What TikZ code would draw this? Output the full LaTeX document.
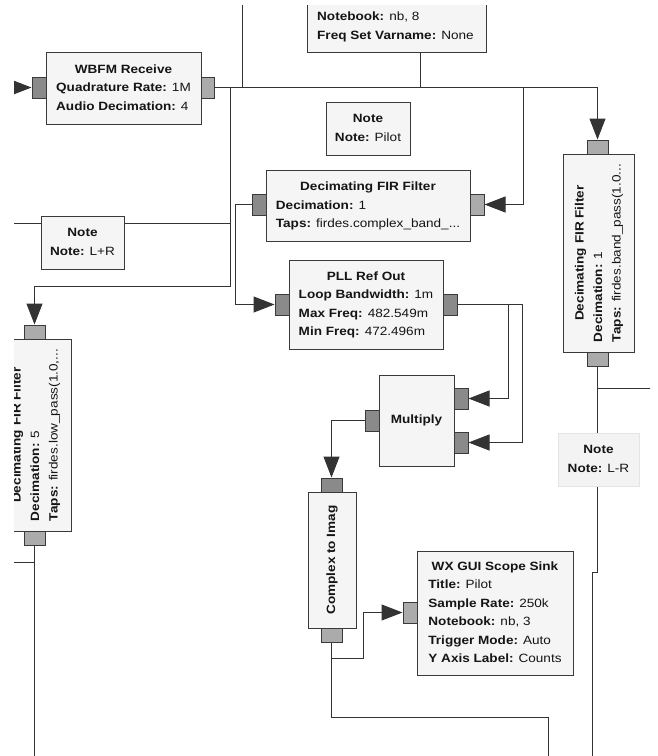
\documentclass[tikz,border=0pt]{standalone}
\usepackage{fontspec}
\setmainfont{Liberation Sans}[FakeStretch=1.13]
\usetikzlibrary{arrows.meta}
\definecolor{bord}{HTML}{3A3A3A}
\definecolor{blkfill}{HTML}{F5F5F5}
\definecolor{portdark}{HTML}{8A8A8A}
\definecolor{portlight}{HTML}{ABABAB}
\definecolor{lin}{HTML}{333333}
\definecolor{txt}{HTML}{151515}
\definecolor{fadeb}{HTML}{E4E4E4}
\definecolor{fadef}{HTML}{F3F3F3}
\newcommand{\blkt}[2]{\begin{tabular}{@{}l@{}}\multicolumn{1}{@{}c@{}}{\textbf{#1}}\\#2\end{tabular}}
\newcommand{\kv}[2]{\textbf{#1:} #2}
\begin{document}
\begin{tikzpicture}[x=1pt,y=-1pt,
  every node/.style={font=\fontsize{12}{18.5}\selectfont, text=txt},
  blk/.style={draw=bord, fill=blkfill, line width=1pt, inner sep=0pt},
  fadedblk/.style={draw=fadeb, fill=fadef, line width=1pt, inner sep=0pt},
  hport/.style={draw=bord, line width=1pt, inner sep=0pt, minimum width=14pt, minimum height=21pt},
  vport/.style={draw=bord, line width=1pt, inner sep=0pt, minimum width=21pt, minimum height=14pt},
  conn/.style={draw=lin, line width=1pt},
  arr/.style={-{Triangle[length=21pt,width=16pt]}}
]
\fill[white] (0,0) rectangle (657,756);
\useasboundingbox (0,0) rectangle (657,756);
\clip (14,5) rectangle (650,756);

% free-end coordinates
\coordinate (inL) at (0,87.5);
\coordinate (j1) at (230,286);
\coordinate (j3) at (523,204.5);
\coordinate (topL) at (242,0);
\coordinate (topLj) at (242,87.5);
\coordinate (fftj1) at (420,53);
\coordinate (fftj2) at (420,87.5);
\coordinate (lrL) at (0,223);
\coordinate (lrR) at (230,223);
\coordinate (j12) at (548,717);
\coordinate (j12b) at (548,770);
\coordinate (lfb) at (34.5,770);
\coordinate (lfl) at (0,562);
\coordinate (lfj) at (34.5,562);
\coordinate (rj1) at (597.5,572);
\coordinate (rj2) at (592,572);
\coordinate (rj3) at (592,770);
\coordinate (rj4) at (597.5,388);
\coordinate (rR) at (670,388);

% ports
\node[hport, fill=portdark]  (wbfmi) at (39,87.5) {};
\node[hport, fill=portlight] (wbfmo) at (207.5,87.5) {};
\node[hport, fill=portdark]  (mfio)  at (259.5,204.5) {};
\node[hport, fill=portlight] (mfii)  at (477,204.5) {};
\node[hport, fill=portdark]  (plli)  at (282,304.5) {};
\node[hport, fill=portdark]  (pllo)  at (450,304.5) {};
\node[hport, fill=portdark]  (mulo)  at (372,420.5) {};
\node[hport, fill=portdark]  (muli1) at (461,398.5) {};
\node[hport, fill=portdark]  (muli2) at (461,442.5) {};
\node[vport, fill=portdark]  (c2ii)  at (331.5,485) {};
\node[vport, fill=portlight] (c2io)  at (331.5,635) {};
\node[hport, fill=portlight] (scpi)  at (410,612.5) {};
\node[vport, fill=portlight] (rfii)  at (597.5,147) {};
\node[vport, fill=portlight] (rfio)  at (597.5,359) {};
\node[vport, fill=portlight] (lfii)  at (34.5,332) {};
\node[vport, fill=portlight] (lfio)  at (34.5,538.5) {};

% connections
\draw[conn, arr] (inL) -- (wbfmi.west);
\draw[conn] (topL) -- (topLj);
\draw[conn] (fftj1) -- (fftj2);
\draw[conn] (lrL) -- (lrR);
\draw[conn, arr] (wbfmo.east) -| (j1) -| (lfii.north);
\draw[conn, arr] (wbfmo.east) -| (rfii.north);
\draw[conn, arr] (wbfmo.east) -| (j3) -- (mfii.east);
\draw[conn, arr] (mfio.west) -- ++(-16.5,0) |- (plli.west);
\draw[conn, arr] (pllo.east) -- ++(51,0) |- (muli1.east);
\draw[conn, arr] (pllo.east) -- ++(65,0) |- (muli2.east);
\draw[conn, arr] (mulo.west) -| (c2ii.north);
\draw[conn, arr] (c2io.south) -- ++(0,16) -- ++(32,0) |- (scpi.west);
\draw[conn] (c2io.south) |- (j12) -- (j12b);
\draw[conn] (lfio.south) -- (lfb);
\draw[conn] (lfl) -- (lfj);
\draw[conn] (rfio.south) -- (rj1) -- (rj2) -- (rj3);
\draw[conn] (rj4) -- (rR);

% blocks
\node[blk, minimum width=179pt, minimum height=120pt, anchor=south] (fft) at (396.5,53) {};
\node[anchor=north west, inner sep=0pt] (fftt) at (317,7.4)
  {\begin{tabular}{@{}l@{}}\kv{Notebook}{nb, 8}\\\kv{Freq Set Varname}{None}\end{tabular}};

\node[blk, minimum width=155pt, minimum height=72pt] (wbfm) at (123.5,88)
  {\blkt{WBFM Receive}{\kv{Quadrature Rate}{1M}\\\kv{Audio Decimation}{4}}};

\node[blk, minimum width=204pt, minimum height=71pt] (mfi) at (368,205.5)
  {\blkt{Decimating FIR Filter}{\kv{Decimation}{1}\\\kv{Taps}{firdes.complex\_band\_...}}};

\node[blk, minimum width=154pt, minimum height=89pt] (pll) at (366,304.5)
  {\blkt{PLL Ref Out}{\kv{Loop Bandwidth}{1m}\\\kv{Max Freq}{482.549m}\\\kv{Min Freq}{472.496m}}};

\node[blk, rotate=90, minimum width=198pt, minimum height=71pt] (rfi) at (598.5,253)
  {\blkt{Decimating FIR Filter}{\kv{Decimation}{1}\\\kv{Taps}{firdes.band\_pass(1.0...}}};

\node[blk, rotate=90, minimum width=192pt, minimum height=71pt] (lfi) at (35.5,435)
  {\blkt{Decimating FIR Filter}{\kv{Decimation}{5}\\\kv{Taps}{firdes.low\_pass(1.0,...}}};

\node[blk, minimum width=75pt, minimum height=91pt] (mul) at (416.5,420.5) {\textbf{Multiply}};

\node[blk, rotate=90, minimum width=136pt, minimum height=48pt] (c2i) at (332,560) {\textbf{Complex to Imag}};

\node[blk, minimum width=156pt, minimum height=124pt] (scope) at (495,613)
  {\blkt{WX GUI Scope Sink}{\kv{Title}{Pilot}\\\kv{Sample Rate}{250k}\\\kv{Notebook}{nb, 3}\\\kv{Trigger Mode}{Auto}\\\kv{Y Axis Label}{Counts}}};

% notes
\node[blk, minimum width=84pt, minimum height=53pt] (npilot) at (368,128.5) {\blkt{Note}{\kv{Note}{Pilot}}};
\node[blk, minimum width=83pt, minimum height=53pt] (nlpr) at (82.5,242.5) {\blkt{Note}{\kv{Note}{L+R}}};
\node[fadedblk, minimum width=81pt, minimum height=53pt] (nlmr) at (598.5,459.5) {\blkt{Note}{\kv{Note}{L-R}}};
\end{tikzpicture}
\end{document}
